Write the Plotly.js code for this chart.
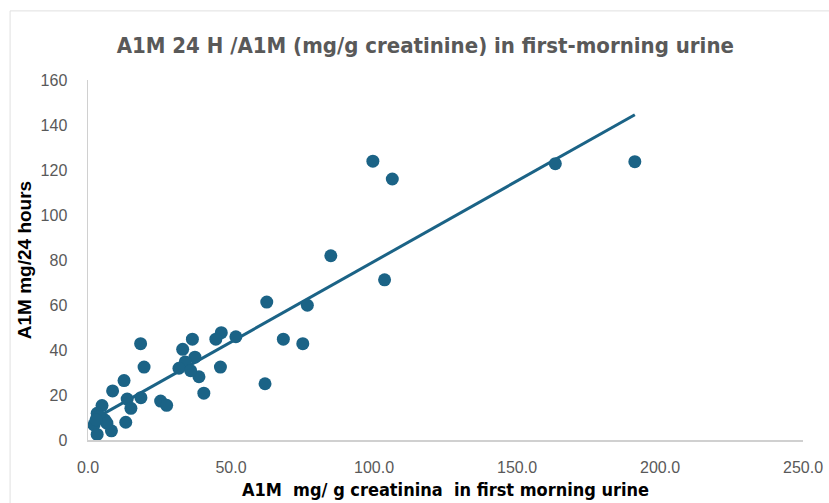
<!DOCTYPE html>
<html>
<head>
<meta charset="utf-8">
<script src="https://cdn.plot.ly/plotly-3.0.1.min.js"></script>
<style>
html,body{margin:0;padding:0;background:#fff;}
#chart{width:829px;height:503px;}
</style>
</head>
<body>
<div id="chart"></div>
<script>
// A1M mg/g creatinine in first-morning urine (x) vs A1M mg/24 hours (y)
const creatinineA1M = [191.2, 163.4, 99.6, 106.4, 103.7, 84.9, 62.5, 76.7, 68.3, 75.1, 61.9, 51.7, 46.6, 44.7, 46.3, 40.5, 38.8, 37.4, 36.5, 33.1, 34.0, 31.8, 35.9, 18.4, 19.6, 18.5, 25.4, 27.5, 12.6, 8.6, 13.7, 15.0, 13.2, 4.9, 3.2, 2.1, 3.2, 5.9, 8.2, 4.0, 6.6, 2.8];
const dailyA1M = [123.7, 122.8, 123.9, 116.0, 71.2, 81.9, 61.3, 59.9, 44.8, 42.8, 25.0, 45.9, 47.7, 44.8, 32.4, 20.8, 28.1, 36.8, 44.8, 40.3, 34.7, 31.9, 30.8, 42.8, 32.4, 18.8, 17.3, 15.4, 26.4, 21.8, 18.2, 14.1, 7.9, 15.3, 11.9, 6.7, 2.5, 8.9, 4.1, 10.5, 7.5, 9.0];
const xTickVals = [0, 50, 100, 150, 200, 250];
const yTickVals = [0, 20, 40, 60, 80, 100, 120, 140, 160];

// Linear trendline (least squares) from the data
const n = creatinineA1M.length;
const mx = creatinineA1M.reduce((a, b) => a + b, 0) / n;
const my = dailyA1M.reduce((a, b) => a + b, 0) / n;
let sxy = 0, sxx = 0;
for (let i = 0; i < n; i++) {
  sxy += (creatinineA1M[i] - mx) * (dailyA1M[i] - my);
  sxx += (creatinineA1M[i] - mx) ** 2;
}
const slope = sxy / sxx;
const intercept = my - slope * mx;
const xMin = Math.min(...creatinineA1M), xMax = Math.max(...creatinineA1M);
const trendX = [xMin, xMax];
const trendY = trendX.map(v => intercept + slope * v);

const color = '#1b6386';
const tickFont = {family: 'Liberation Sans, Arial, sans-serif', size: 16, color: '#595959'};

const data = [
  {
    x: trendX, y: trendY, type: 'scatter', mode: 'lines',
    line: {color: color, width: 3}, hoverinfo: 'skip', showlegend: false
  },
  {
    x: creatinineA1M, y: dailyA1M, type: 'scatter', mode: 'markers',
    marker: {color: color, size: 13}, showlegend: false
  }
];

const layout = {
  width: 829, height: 503,
  margin: {l: 88, r: 26, t: 80, b: 63},
  paper_bgcolor: '#fff', plot_bgcolor: '#fff',
  title: {
    text: 'A1M 24 H /A1M (mg/g creatinine) in first-morning urine',
    font: {family: 'Liberation Sans Narrow, Arial Narrow, DejaVu Sans Condensed, sans-serif', size: 22, color: '#595959', weight: 'bold'},
    x: 0.513, xanchor: 'center', y: 0.909, yanchor: 'middle', yref: 'container'
  },
  xaxis: {
    range: [0, 250], tickvals: xTickVals, tickformat: '.1f',
    showgrid: false, zeroline: false, showline: true, linecolor: '#d0d0d0', linewidth: 1.5,
    ticks: 'outside', ticklen: 12, tickcolor: 'rgba(0,0,0,0)',
    tickfont: tickFont,
    title: {text: 'A1M  mg/ g creatinina  in first morning urine', standoff: 8,
      font: {family: 'Liberation Sans Narrow, Arial Narrow, DejaVu Sans Condensed, sans-serif', size: 18, color: '#000', weight: 'bold'}}
  },
  yaxis: {
    range: [0, 160], tickvals: yTickVals,
    showgrid: false, zeroline: false, showline: true, linecolor: '#d0d0d0', linewidth: 1.5,
    ticks: 'outside', ticklen: 16, tickcolor: 'rgba(0,0,0,0)',
    tickfont: tickFont,
    title: {text: 'A1M mg/24 hours', standoff: 4,
      font: {family: 'Liberation Sans, Arial, sans-serif', size: 19, color: '#000', weight: 'bold'}}
  },
  shapes: [{
    type: 'rect', xref: 'paper', yref: 'paper',
    x0: -0.109, x1: 1.2, y0: -0.4, y1: 1.192,
    line: {color: '#e0e0e0', width: 1}, fillcolor: 'rgba(0,0,0,0)', layer: 'below'
  }]
};

Plotly.newPlot('chart', data, layout, {displayModeBar: false, staticPlot: true});
</script>
</body>
</html>
